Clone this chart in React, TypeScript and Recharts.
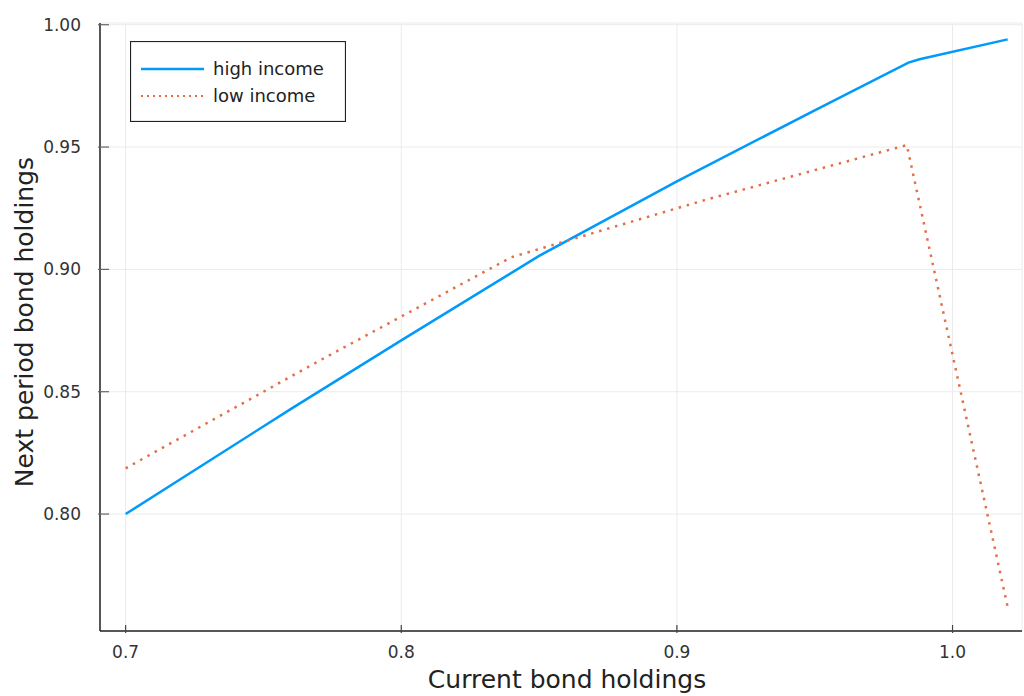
import { LineChart, Line, XAxis, YAxis, CartesianGrid, Legend } from 'recharts';

// values
const highX = [0.7, 0.76, 0.8, 0.85, 0.9, 0.95, 0.984, 0.988, 1.02];
const highY = [0.8, 0.843, 0.871, 0.9055, 0.936, 0.965, 0.9845, 0.9859, 0.994];

const lowX = [0.7, 0.77, 0.84, 0.91, 0.9834, 1.02];
const lowY = [0.8187, 0.8625, 0.905, 0.9283, 0.9508, 0.762];

const xTicks = [0.7, 0.8, 0.9, 1.0];
const yTicks = [0.8, 0.85, 0.9, 0.95, 1.0];

const highData = highX.map((x, i) => ({ x, y: highY[i] }));
const lowData = lowX.map((x, i) => ({ x, y: lowY[i] }));

const FONT = '"DejaVu Sans", sans-serif';
const BLUE = '#009AFA';
const ORANGE = '#E36F47';

const XTick = ({ x, y, payload }: any) => (
  <g>
    <line x1={x} x2={x} y1={y} y2={y - 8} stroke="#444" strokeWidth={1.2} />
    <text x={x} y={y + 25} textAnchor="middle" fontFamily={FONT} fontSize={17} fill="#333">
      {Number(payload.value).toFixed(1)}
    </text>
  </g>
);

const YTick = ({ x, y, payload }: any) => (
  <g>
    <line x1={x} x2={x + 11} y1={y} y2={y} stroke="#666" strokeWidth={1.2} />
    <text x={x - 17} y={y + 6} textAnchor="end" fontFamily={FONT} fontSize={17} fill="#333">
      {Number(payload.value).toFixed(2)}
    </text>
  </g>
);

const XLabel = ({ viewBox }: any) => (
  <text
    x={viewBox.x + viewBox.width / 2 + 6}
    y={688}
    textAnchor="middle"
    fontFamily={FONT}
    fontSize={25}
    fill="#222"
  >
    Current bond holdings
  </text>
);

const YLabel = ({ viewBox }: any) => {
  const cx = 33;
  const cy = viewBox.y + viewBox.height / 2 - 5;
  return (
    <text
      x={cx}
      y={cy}
      transform={`rotate(-90 ${cx} ${cy})`}
      textAnchor="middle"
      fontFamily={FONT}
      fontSize={25}
      fill="#222"
    >
      Next period bond holdings
    </text>
  );
};

const LegendBox = ({ payload }: any) => (
  <svg width={216} height={81} style={{ display: 'block' }}>
    <rect x={0.5} y={0.5} width={215} height={80} fill="#fff" stroke="#222" strokeWidth={1.2} />
    {(payload || []).map((p: any, i: number) => {
      const cy = 28 + i * 27;
      return (
        <g key={p.value}>
          <line
            x1={11}
            x2={74}
            y1={cy}
            y2={cy}
            stroke={p.color}
            strokeWidth={i === 0 ? 2.5 : 2}
            strokeDasharray={i === 0 ? undefined : '2 4'}
          />
          <text x={83} y={cy + 6} fontFamily={FONT} fontSize={18} fill="#222">
            {p.value}
          </text>
        </g>
      );
    })}
  </svg>
);

export default function App() {
  return (
    <div style={{ position: 'absolute', left: 0, top: 0, width: 1024, height: 696, background: '#fff' }}>
      <LineChart width={1024} height={696} margin={{ top: 23, right: 2, bottom: 0, left: 0 }}>
        <CartesianGrid stroke="#ebebeb" strokeWidth={1} />
        <XAxis
          dataKey="x"
          type="number"
          domain={[0.6907, 1.0252]}
          allowDataOverflow
          ticks={xTicks}
          height={65}
          tickSize={0}
          tickLine={false}
          tick={<XTick />}
          axisLine={{ stroke: '#222', strokeWidth: 1.5 }}
          label={<XLabel />}
        />
        <YAxis
          type="number"
          domain={[0.7522, 1.0007]}
          allowDataOverflow
          ticks={yTicks}
          width={100}
          tickSize={0}
          tickLine={false}
          tick={<YTick />}
          axisLine={{ stroke: '#222', strokeWidth: 1.5 }}
          label={<YLabel />}
        />
        <Legend
          layout="horizontal"
          align="center"
          verticalAlign="middle"
          wrapperStyle={{ left: 130, top: 41, width: 216, height: 81 }}
          content={<LegendBox />}
        />
        <Line
          data={highData}
          dataKey="y"
          name="high income"
          type="linear"
          stroke={BLUE}
          strokeWidth={2.5}
          dot={false}
          isAnimationActive={false}
        />
        <Line
          data={lowData}
          dataKey="y"
          name="low income"
          type="linear"
          stroke={ORANGE}
          strokeWidth={2.5}
          strokeDasharray="2.5 5.8"
          dot={false}
          isAnimationActive={false}
        />
      </LineChart>
    </div>
  );
}
